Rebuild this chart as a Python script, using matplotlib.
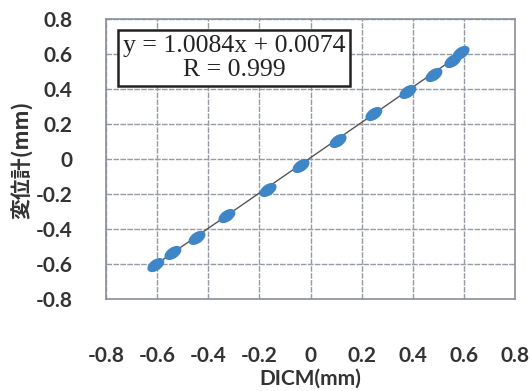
import numpy as np
import matplotlib.pyplot as plt
from matplotlib.markers import MarkerStyle
from matplotlib.transforms import Affine2D

# measured points (DICM vs displacement gauge), mm
dicm = [-0.605, -0.538, -0.444, -0.327, -0.166, -0.037, 0.108, 0.248, 0.381, 0.483, 0.557, 0.589]
gauge = [-0.606, -0.537, -0.451, -0.326, -0.177, -0.040, 0.103, 0.257, 0.383, 0.480, 0.560, 0.606]

slope = 1.0084
intercept = 0.0074
ticks = [-0.8, -0.6, -0.4, -0.2, 0, 0.2, 0.4, 0.6, 0.8]
tick_labels = ['-0.8', '-0.6', '-0.4', '-0.2', '0', '0.2', '0.4', '0.6', '0.8']

plt.rcParams['font.family'] = ['Lato', 'DejaVu Sans']

fig = plt.figure(figsize=(5.32, 3.91), dpi=100)
ax = fig.add_axes([106/532, 1-299/391, (515-106)/532, (299-19)/391])

# regression line
xl = np.array([min(dicm) - 0.015, max(dicm) + 0.015])
ax.plot(xl, slope*xl + intercept, color='#555555', lw=1.0, zorder=2)

# elongated blobs for the points
m = MarkerStyle('o', transform=Affine2D().scale(1.7, 1.0).rotate_deg(34))
ax.scatter(dicm, gauge, s=65, marker=m, color='#3f86c8', edgecolors='none', zorder=3)

ax.set_xlim(-0.8, 0.8)
ax.set_ylim(-0.8, 0.8)
ax.set_xticks(ticks)
ax.set_xticklabels(tick_labels)
ax.set_yticks(ticks)
ax.set_yticklabels(tick_labels)
ax.tick_params(length=0, labelsize=15, colors='#333333')
ax.tick_params(axis='x', pad=34)
ax.tick_params(axis='y', pad=24)
for lab in ax.get_xticklabels() + ax.get_yticklabels():
    lab.set_fontweight('bold')

ax.grid(True, color='#959aa3', lw=1.0, linestyle=(0, (4, 1)))
ax.set_axisbelow(True)
for sp in ax.spines.values():
    sp.set_color('#8a8f99')
    sp.set_linewidth(1.2)

ax.set_xlabel('DICM(mm)', fontsize=15, fontweight='bold', color='#333333', labelpad=2)
fig.text(22/532, 1-160/391, '変位計(mm)', rotation=90, ha='center', va='center',
         fontsize=15, fontweight='bold', color='#333333',
         family=['Noto Sans CJK JP', 'DejaVu Sans'])

box_txt = 'y = 1.0084x + 0.0074\nR = 0.999'
fig.text(234/532, 1-58/391, box_txt, ha='center', va='center', multialignment='center',
         fontsize=18.5, family=['Liberation Serif'], color='#222222', linespacing=1.15,
         bbox=dict(boxstyle='square,pad=0.2', fc='white', ec='#222222', lw=1.8))

fig.savefig('out.png', dpi=100)
